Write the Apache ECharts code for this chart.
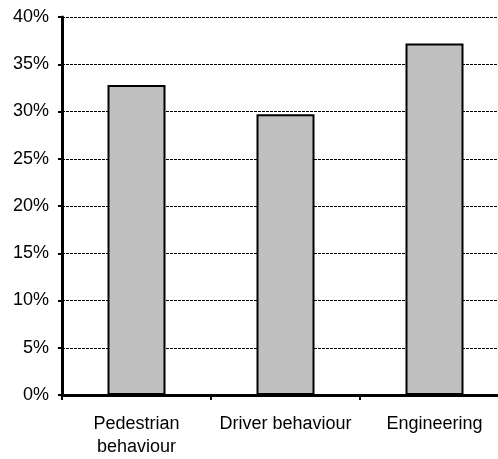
<!DOCTYPE html>
<html>
<head>
<meta charset="utf-8">
<script src="https://cdn.jsdelivr.net/npm/echarts@6/dist/echarts.min.js"></script>
<style>
html,body{margin:0;padding:0;background:#fff;overflow:hidden;}
#chart{width:509px;height:459px;}
</style>
</head>
<body>
<div id="chart"></div>
<script>
const categories = ["Pedestrian\nbehaviour", "Driver behaviour", "Engineering"];
const values = [0.328, 0.297, 0.372];
const yMin = 0, yMax = 0.4, yStep = 0.05;

const chart = echarts.init(document.getElementById('chart'), null, {renderer: 'canvas'});
const font = '"Liberation Sans", Arial, sans-serif';
chart.setOption({
  animation: false,
  backgroundColor: '#ffffff',
  grid: {left: 62, top: 17, right: 0, bottom: 62, containLabel: false},
  xAxis: {
    type: 'category',
    data: categories,
    boundaryGap: true,
    axisLine: {show: true, lineStyle: {color: '#000', width: 3}},
    axisTick: {show: true, length: 5, interval: 0, lineStyle: {color: '#000', width: 2}},
    axisLabel: {interval: 0, margin: 18, color: '#000', fontSize: 18, fontFamily: font, lineHeight: 23},
    splitLine: {show: false}
  },
  yAxis: {
    type: 'value',
    min: yMin, max: yMax, interval: yStep,
    axisLine: {show: true, lineStyle: {color: '#000', width: 3}},
    axisTick: {show: true, length: 4, lineStyle: {color: '#000', width: 2}},
    axisLabel: {margin: 13, color: '#000', fontSize: 18, fontFamily: font,
      formatter: v => Math.round(v * 100) + '%'},
    splitLine: {show: true, lineStyle: {color: '#000', width: 1, type: [3, 1]}}
  },
  series: [{
    type: 'bar',
    data: values,
    barWidth: 58,
    itemStyle: {color: '#c0c0c0', borderColor: '#000', borderWidth: 2}
  }]
});
</script>
</body>
</html>
